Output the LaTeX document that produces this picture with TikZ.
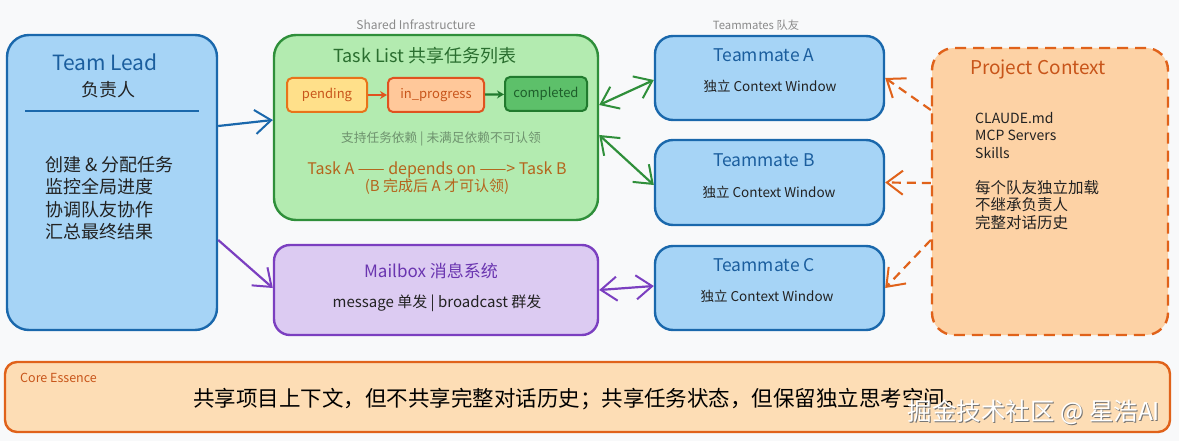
\documentclass[tikz,border=0pt]{standalone}
\usepackage{fontspec}
\setmainfont{Noto Sans CJK SC}
\usetikzlibrary{arrows.meta}
\definecolor{bgcol}{HTML}{F8F9FA}
\definecolor{bluefill}{HTML}{A6D4F6}
\definecolor{bluedraw}{HTML}{1A68AC}
\definecolor{bluetext}{HTML}{1B5E9E}
\definecolor{greenfill}{HTML}{B3EBB0}
\definecolor{greendraw}{HTML}{2F8F3A}
\definecolor{greentext}{HTML}{2A6E2F}
\definecolor{pendfill}{HTML}{FFE08A}
\definecolor{pendraw}{HTML}{E8731A}
\definecolor{orangetext}{HTML}{C8551A}
\definecolor{progfill}{HTML}{FFC89A}
\definecolor{progdraw}{HTML}{E0521F}
\definecolor{compfill}{HTML}{5DC06A}
\definecolor{compdraw}{HTML}{217A2E}
\definecolor{comptext}{HTML}{1E5E2A}
\definecolor{purpfill}{HTML}{DCCBF2}
\definecolor{purpdraw}{HTML}{7B3FC0}
\definecolor{purptext}{HTML}{6A35B0}
\definecolor{projfill}{HTML}{FDD2A5}
\definecolor{projdraw}{HTML}{E0621A}
\definecolor{corefill}{HTML}{FDDDB5}
\definecolor{darktext}{HTML}{222222}
\definecolor{graytext}{HTML}{8A8A8A}
\definecolor{subgreen}{HTML}{6E926E}
\definecolor{deptext}{HTML}{B5651D}
\tikzset{vb/.tip={Straight Barb[length=16pt,width=24pt,line width=2pt]}}
\newcommand{\fs}[1]{\fontsize{#1}{#1}\selectfont}
\begin{document}
\begin{tikzpicture}[x=1pt,y=-1pt,
  box/.style={rectangle,rounded corners=22pt,line width=2.4pt,inner sep=0pt},
  chip/.style={rectangle,rounded corners=5pt,line width=2pt,minimum height=34pt,inner sep=0pt,font=\fs{13}},
  lbl/.style={inner sep=0pt,text=darktext},
  tiny/.style={inner sep=0pt,text=graytext},
  conn/.style={line width=2.2pt},
]
\useasboundingbox[fill=bgcol] (0,0) rectangle (1179,441);

% ---- Team Lead
\node[box,fill=bluefill,draw=bluedraw,minimum width=210pt,minimum height=295pt] (lead) at (112,182.5) {};
\node[lbl,text=bluetext,font=\fs{21}] (leadt) at (105,62) {Team Lead};
\node[lbl,font=\fs{18}] (leads) at (108,90) {负责人};
\coordinate (rulea) at (25,111);
\coordinate (ruleb) at (199,111);
\draw[bluedraw,line width=1.5pt] (rulea) -- (ruleb);
\node[lbl,anchor=north west,align=left,font=\fontsize{18}{22.5}\selectfont] (leadb) at (45,156)
  {创建 \& 分配任务\\监控全局进度\\协调队友协作\\汇总最终结果};

% ---- Task List
\node[tiny,font=\fs{12}] (shared) at (416,25) {Shared Infrastructure};
\node[box,fill=greenfill,draw=greendraw,minimum width=324pt,minimum height=185pt] (tl) at (436,127.5) {};
\node[lbl,text=greentext,font=\fs{18}] (tlt) at (425,56) {Task List 共享任务列表};
\node[chip,fill=pendfill,draw=pendraw,text=orangetext,minimum width=80pt] (pend) at (327,95) {pending};
\node[chip,fill=progfill,draw=progdraw,text=orangetext,minimum width=96pt] (prog) at (436,95) {in\_progress};
\node[chip,fill=compfill,draw=compdraw,text=comptext,minimum width=82pt] (comp) at (546,94) {completed};
\draw[conn,progdraw,-{Stealth[length=7pt,width=8pt]}] (pend) -- (prog);
\draw[conn,compdraw,-{Stealth[length=7pt,width=8pt]}] (prog) -- (comp);
\node[lbl,text=subgreen,font=\fs{12.7}] (tldep) at (441,139) {支持任务依赖 | 未满足依赖不可认领};
\node[lbl,text=deptext,font=\fs{16}] (tlab) at (437,170) {Task A —— depends on ——> Task B};
\node[lbl,text=deptext,font=\fs{15}] (tlnote) at (437,187) {(B 完成后 A 才可认领)};

% ---- Mailbox
\node[box,rounded corners=16pt,fill=purpfill,draw=purpdraw,minimum width=324pt,minimum height=90pt] (mb) at (436,290) {};
\node[lbl,text=purptext,font=\fs{17}] (mbt) at (431,271) {Mailbox 消息系统};
\node[lbl,font=\fs{15}] (mbs) at (437,303) {message 单发 | broadcast 群发};

% ---- Teammates
\node[tiny,font=\fs{11.3}] (tmlbl) at (756,25) {Teammates 队友};
\node[box,rounded corners=18pt,fill=bluefill,draw=bluedraw,minimum width=229pt,minimum height=84pt] (tma) at (769.5,78) {};
\node[box,rounded corners=18pt,fill=bluefill,draw=bluedraw,minimum width=229pt,minimum height=85pt] (tmb) at (769.5,182.5) {};
\node[box,rounded corners=18pt,fill=bluefill,draw=bluedraw,minimum width=229pt,minimum height=84pt] (tmc) at (769.5,288) {};
\node[lbl,text=bluetext,font=\fs{17.5}] (tmat) at (764,55) {Teammate A};
\node[lbl,font=\fs{13.5}] (tmas) at (770,86) {独立 Context Window};
\node[lbl,text=bluetext,font=\fs{17.5}] (tmbt) at (764,160) {Teammate B};
\node[lbl,font=\fs{13.5}] (tmbs) at (769,192) {独立 Context Window};
\node[lbl,text=bluetext,font=\fs{17.5}] (tmct) at (764,265) {Teammate C};
\node[lbl,font=\fs{13.5}] (tmcs) at (767,296) {独立 Context Window};

% ---- Project Context
\node[box,fill=projfill,draw=projdraw,dash pattern=on 11pt off 7pt,minimum width=236pt,minimum height=287pt] (proj) at (1050,191.5) {};
\node[lbl,text=orangetext,font=\fs{19}] (projt) at (1038,69) {Project Context};
\node[lbl,anchor=north west,align=left,font=\fontsize{14}{17.5}\selectfont] (projl) at (975,112)
  {CLAUDE.md\\MCP Servers\\Skills\\[17.5pt]{\fontsize{15.5}{17.5}\selectfont 每个队友独立加载}\\{\fontsize{15.5}{17.5}\selectfont 不继承负责人}\\{\fontsize{15.5}{17.5}\selectfont 完整对话历史}};

% ---- Core Essence
\node[box,rounded corners=12pt,fill=corefill,draw=projdraw,minimum width=1165pt,minimum height=70pt] (core) at (587.5,397) {};
\node[lbl,anchor=west,text=orangetext,font=\fs{12.5}] (coret) at (20,378) {Core Essence};
\node[lbl,text=black,font=\fs{21.5}] (coremain) at (580,399) {共享项目上下文，但不共享完整对话历史；共享任务状态，但保留独立思考空间。};
\node[lbl,text=black!55,font=\fs{24.5}] (wm0) at (1035,413) {掘金技术社区 @ 星浩AI};
\node[lbl,text=white,font=\fs{24.5}] (wm) at (1034,412) {掘金技术社区 @ 星浩AI};

% ---- Connectors
\draw[conn,bluedraw,-vb] ([yshift=56.5pt]lead.east) -- ([yshift=7.5pt]tl.west);
\draw[conn,purpdraw,-vb] ([yshift=-57.5pt]lead.east) -- ([yshift=2pt]mb.west);
\draw[conn,greendraw,vb-vb] ([yshift=22.5pt]tl.east) -- ([yshift=-2pt]tma.west);
\draw[conn,greendraw,vb-vb] ([yshift=-7.5pt]tl.east) -- ([yshift=-2.5pt]tmb.west);
\draw[conn,purpdraw,vb-vb] (mb.east) -- ([yshift=2pt]tmc.west);
\draw[conn,projdraw,dash pattern=on 9pt off 6pt,-vb] ([yshift=81.5pt]proj.west) -- (tma.east);
\draw[conn,projdraw,dash pattern=on 9pt off 6pt,-vb] ([yshift=8.5pt]proj.west) -- (tmb.east);
\draw[conn,projdraw,dash pattern=on 9pt off 6pt,-vb] ([yshift=-48.5pt]proj.west) -- (tmc.east);
\end{tikzpicture}
\end{document}
